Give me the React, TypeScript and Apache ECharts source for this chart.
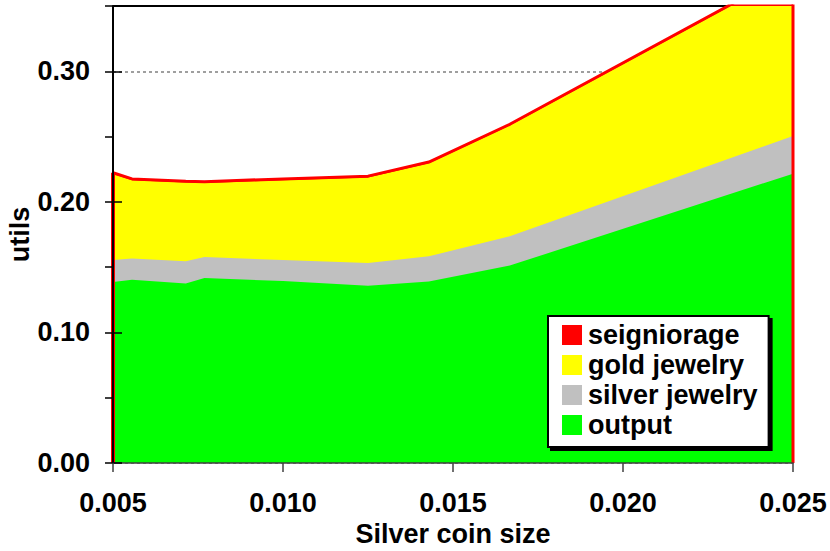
import { useEffect, useRef } from 'react';
import * as echarts from 'echarts';

// Silver coin size (x) values
const coinSizes = [0.005, 0.00556, 0.00714, 0.00769, 0.01, 0.0125, 0.01429, 0.01667, 0.025];
// Stacked components (utils)
const output = [0.1387, 0.1404, 0.1374, 0.1416, 0.1393, 0.1358, 0.1391, 0.1512, 0.2216];
const silverJewelry = [0.0167, 0.0162, 0.0171, 0.0161, 0.0161, 0.0173, 0.0192, 0.0225, 0.0288];
const goldJewelry = [0.0659, 0.0600, 0.0603, 0.0567, 0.0612, 0.0656, 0.0712, 0.0847, 0.1256];
const seigniorage = [0.001, 0.001, 0.001, 0.001, 0.001, 0.001, 0.001, 0.001, 0.001];

const legendOrder = ['seigniorage', 'gold jewelry', 'silver jewelry', 'output'];
const xMin = 0.005;
const xMax = 0.025;
const xStep = 0.005;
const yMin = 0;
const yMax = 0.35;

const FONT = '"Liberation Sans", Arial, Helvetica, sans-serif';

export default function App() {
  const ref = useRef<HTMLDivElement>(null);

  useEffect(() => {
    const chart = echarts.init(ref.current!, null, { renderer: 'svg' });
    const last = coinSizes.length - 1;

    // cumulative tops (stack built from the component arrays)
    const cumOutput = output.map((v) => v);
    const cumSilver = cumOutput.map((v, i) => v + silverJewelry[i]);
    const cumGold = cumSilver.map((v, i) => v + goldJewelry[i]);
    const cumSeign = cumGold.map((v, i) => v + seigniorage[i]);
    const pairs = (arr: number[]) => coinSizes.map((x, i) => [x, arr[i]]);

    const areaSeries = (name: string, data: number[], color: string, lineWidth: number) => ({
      name,
      type: 'line',
      data: pairs(data),
      showSymbol: false,
      symbol: 'none',
      itemStyle: { color },
      lineStyle: { color, width: lineWidth, opacity: lineWidth > 0 ? 1 : 0 },
      areaStyle: { color, opacity: 1, origin: 'start' },
      z: 2,
    });

    const labelStyle = { fontFamily: FONT, fontSize: 27, fontWeight: 'bold' as const, color: '#000' };

    const option: any = {
      animation: false,
      backgroundColor: '#fff',
      grid: { left: 113, right: 37, top: 6, bottom: 88, containLabel: false, outerBoundsMode: 'none' },
      legend: {
        data: legendOrder,
        orient: 'vertical',
        left: 548,
        top: 316,
        icon: 'rect',
        itemWidth: 20,
        itemHeight: 20,
        itemGap: 0,
        padding: [4, 11, 7, 14],
        backgroundColor: '#fff',
        borderColor: '#000',
        borderWidth: 2,
        shadowColor: '#000',
        shadowBlur: 0,
        shadowOffsetX: 3,
        shadowOffsetY: 3,
        selectedMode: false,
        itemStyle: { borderWidth: 0 },
        textStyle: { ...labelStyle, lineHeight: 30, padding: [0, 0, 0, 1] },
      },
      xAxis: {
        type: 'value',
        min: xMin,
        max: xMax,
        interval: xStep,
        z: 3,
        name: 'Silver coin size',
        nameLocation: 'middle',
        nameGap: 57,
        nameMoveOverlap: false,
        nameTextStyle: labelStyle,
        axisLine: { show: true, lineStyle: { color: '#404040', width: 1.5 } },
        axisTick: { show: true, length: 9, lineStyle: { color: '#404040', width: 1.5 } },
        axisLabel: { ...labelStyle, margin: 26, formatter: (v: number) => v.toFixed(3) },
        splitLine: { show: false },
      },
      yAxis: [
        {
          type: 'value',
          min: yMin,
          max: yMax,
          interval: 0.05,
          position: 'left',
          z: 3,
          name: 'utils',
          nameLocation: 'middle',
          nameGap: 80,
          nameRotate: 90,
          nameMoveOverlap: false,
          nameTextStyle: labelStyle,
          axisLine: { show: true, lineStyle: { color: '#000', width: 2 } },
          axisTick: { show: true, length: 8, lineStyle: { color: '#000', width: 1.5 } },
          axisLabel: {
            ...labelStyle,
            margin: 23,
            formatter: (v: number) => (Math.round(v * 100) % 10 === 0 ? v.toFixed(2) : ''),
          },
          splitLine: { show: false },
        },
        {
          type: 'value',
          min: yMin,
          max: yMax,
          interval: 0.1,
          position: 'left',
          z: 3,
          axisLine: { show: false },
          axisTick: { show: true, inside: true, length: 9, lineStyle: { color: '#000', width: 1.5 } },
          axisLabel: { show: false },
          splitLine: { show: false },
        },
        {
          type: 'value',
          min: yMin,
          max: yMax,
          interval: 0.1,
          position: 'left',
          z: 0,
          axisLine: { show: false },
          axisTick: { show: false },
          axisLabel: { show: false },
          splitLine: { show: true, lineStyle: { color: '#808080', type: [3, 3], width: 1.5 } },
        },
      ],
      series: [
        {
          name: 'plotTop',
          type: 'line',
          data: [[xMin, yMax], [xMax, yMax]],
          symbol: 'none',
          lineStyle: { color: '#000', width: 2 },
          z: 1,
          silent: true,
        },
        areaSeries('seigniorage', cumSeign, '#ff0000', 3),
        areaSeries('gold jewelry', cumGold, '#ffff00', 0),
        areaSeries('silver jewelry', cumSilver, '#c0c0c0', 0),
        areaSeries('output', cumOutput, '#00ff00', 0),
        {
          name: 'leftEdge',
          type: 'line',
          data: [[coinSizes[0], 0], [coinSizes[0], cumSeign[0]]],
          symbol: 'none',
          lineStyle: { color: '#ff0000', width: 4 },
          z: 2,
          silent: true,
        },
        {
          name: 'rightEdge',
          type: 'line',
          data: [[coinSizes[last], 0], [coinSizes[last], cumSeign[last]]],
          symbol: 'none',
          lineStyle: { color: '#ff0000', width: 3 },
          z: 2,
          silent: true,
        },
      ],
    };

    chart.setOption(option);
    return () => chart.dispose();
  }, []);

  return (
    <div
      ref={ref}
      style={{ position: 'fixed', left: 0, top: 0, width: 830, height: 551, background: '#fff' }}
    />
  );
}
